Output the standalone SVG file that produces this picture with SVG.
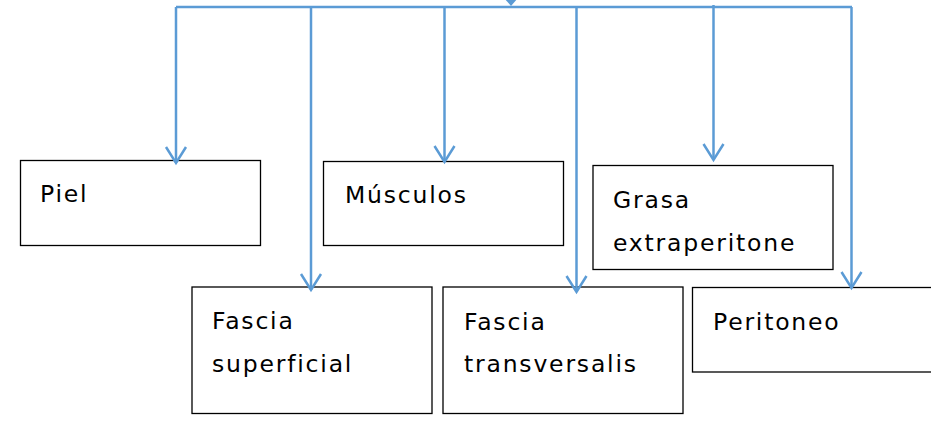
<svg xmlns="http://www.w3.org/2000/svg" width="931" height="423" viewBox="0 0 931 423">
<style>
.box{fill:#fff;stroke:#000;stroke-width:1.3}
.lbl{font-family:"DejaVu Sans","Noto Sans",sans-serif;font-size:23.5px;fill:#000;letter-spacing:1.8px}
.con{fill:none;stroke:#5B9BD5;stroke-width:2.5}
</style>
<defs>
<marker id="vh" markerUnits="userSpaceOnUse" markerWidth="24" markerHeight="28" viewBox="-21 -14 24 28" refX="0" refY="0" orient="auto">
<path d="M-16,-10 L0,0 L-16,10" fill="none" stroke="#5B9BD5" stroke-width="2.5"/>
</marker>
</defs>
<g id="piel"><rect class="box" x="20.5" y="160.5" width="240" height="85"/><text class="lbl" x="40" y="202">Piel</text></g>
<g id="musculos"><rect class="box" x="323.5" y="161.5" width="240" height="84"/><text class="lbl" x="345" y="203">Músculos</text></g>
<g id="grasa"><rect class="box" x="593" y="165.5" width="240" height="104"/><text class="lbl" x="613" y="208">Grasa</text><text class="lbl" x="613" y="251">extraperitone</text></g>
<g id="fascia-superficial"><rect class="box" x="192" y="287" width="240" height="126.5"/><text class="lbl" x="212" y="329">Fascia</text><text class="lbl" x="212" y="372">superficial</text></g>
<g id="fascia-transversalis"><rect class="box" x="443" y="287" width="240" height="126.5"/><text class="lbl" x="464" y="330">Fascia</text><text class="lbl" x="464" y="372">transversalis</text></g>
<g id="peritoneo"><rect class="box" x="692.5" y="287.5" width="240" height="84.5"/><text class="lbl" x="713" y="330">Peritoneo</text></g>
<g id="connectors">
<path class="con" d="M176,7 H852"/>
<polygon points="504,-2 518,-2 511,6" fill="#5B9BD5"/>
<path class="con" d="M176,7 V163" marker-end="url(#vh)"/>
<path class="con" d="M311,7 V290" marker-end="url(#vh)"/>
<path class="con" d="M444.5,7 V162" marker-end="url(#vh)"/>
<path class="con" d="M576.5,7 V292" marker-end="url(#vh)"/>
<path class="con" d="M713.5,5 V160" marker-end="url(#vh)"/>
<path class="con" d="M851.5,7 V288" marker-end="url(#vh)"/>
</g>
</svg>
